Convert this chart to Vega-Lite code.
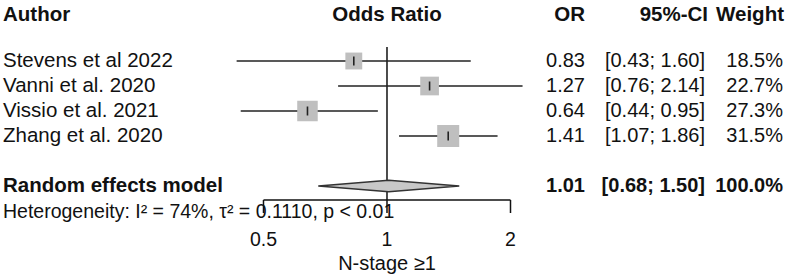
{
  "$schema": "https://vega.github.io/schema/vega-lite/v6.json",
  "width": 789,
  "height": 279,
  "autosize": "none",
  "padding": 0,
  "background": "white",
  "config": {
    "view": {"stroke": null},
    "axis": {"disable": true},
    "text": {"font": "Liberation Sans", "fontSize": 20, "color": "#111111", "baseline": "middle"}
  },
  "datasets": {
    "studies": [
      {"author": "Stevens et al 2022", "row": 2, "or": 0.83, "lo": 0.43, "hi": 1.60, "ci": "[0.43; 1.60]", "w": 0.185},
      {"author": "Vanni et al. 2020", "row": 3, "or": 1.27, "lo": 0.76, "hi": 2.14, "ci": "[0.76; 2.14]", "w": 0.227},
      {"author": "Vissio et al. 2021", "row": 4, "or": 0.64, "lo": 0.44, "hi": 0.95, "ci": "[0.44; 0.95]", "w": 0.273},
      {"author": "Zhang et al. 2020", "row": 5, "or": 1.41, "lo": 1.07, "hi": 1.86, "ci": "[1.07; 1.86]", "w": 0.315}
    ],
    "pooled": [
      {"author": "Random effects model", "row": 7, "or": 1.01, "lo": 0.68, "hi": 1.50, "ci": "[0.68; 1.50]", "w": 1.0}
    ],
    "diamond": [
      {"x": 0.68, "top": 7, "bottom": 7},
      {"x": 1.01, "top": 6.77, "bottom": 7.23},
      {"x": 1.50, "top": 7, "bottom": 7}
    ],
    "ticks": [
      {"v": 0.5, "lab": "0.5"},
      {"v": 1, "lab": "1"},
      {"v": 2, "lab": "2"}
    ]
  },
  "encoding": {
    "y": {"type": "quantitative", "scale": {"domain": [-0.44, 10.72], "reverse": true, "zero": false, "nice": false}}
  },
  "resolve": {"scale": {"x": "independent"}},
  "layer": [
    {
      "data": {"values": [{"ref": 1}]},
      "mark": {"type": "rule", "color": "#111111", "strokeWidth": 1.5},
      "encoding": {
        "x": {"field": "ref", "type": "quantitative", "scale": {"type": "log", "domain": [0.11395, 9.547], "nice": false}},
        "y": {"datum": 1.44},
        "y2": {"datum": 7.56}
      }
    },
    {
      "data": {"name": "studies"},
      "mark": {"type": "rule", "color": "#222222", "strokeWidth": 1.5},
      "encoding": {
        "x": {"field": "lo", "type": "quantitative", "scale": {"type": "log", "domain": [0.11395, 9.547], "nice": false}},
        "x2": {"field": "hi"},
        "y": {"field": "row"}
      }
    },
    {
      "data": {"name": "studies"},
      "mark": {"type": "point", "shape": "square", "filled": true, "fill": "#bfbfbf", "opacity": 1, "strokeWidth": 0},
      "encoding": {
        "x": {"field": "or", "type": "quantitative", "scale": {"type": "log", "domain": [0.11395, 9.547], "nice": false}},
        "y": {"field": "row"},
        "size": {"field": "w", "type": "quantitative", "scale": {"domain": [0, 1], "range": [0, 1540], "zero": true}, "legend": null}
      }
    },
    {
      "data": {"name": "studies"},
      "mark": {"type": "point", "shape": "M0,-1L0,1", "filled": false, "stroke": "#222222", "strokeWidth": 1.6, "size": 81, "opacity": 1},
      "encoding": {
        "x": {"field": "or", "type": "quantitative", "scale": {"type": "log", "domain": [0.11395, 9.547], "nice": false}},
        "y": {"field": "row"}
      }
    },
    {
      "data": {"name": "diamond"},
      "mark": {"type": "area", "fill": "#c8c8c8", "stroke": "#333333", "strokeWidth": 1.5, "opacity": 1, "interpolate": "linear", "orient": "vertical"},
      "encoding": {
        "x": {"field": "x", "type": "quantitative", "scale": {"type": "log", "domain": [0.11395, 9.547], "nice": false}},
        "y": {"field": "top"},
        "y2": {"field": "bottom"}
      }
    },
    {
      "data": {"name": "ticks"},
      "mark": {"type": "rule", "color": "#111111", "strokeWidth": 1.5},
      "encoding": {
        "x": {"aggregate": "min", "field": "v", "type": "quantitative", "scale": {"type": "log", "domain": [0.11395, 9.547], "nice": false}},
        "x2": {"aggregate": "max", "field": "v"},
        "y": {"datum": 7.56}
      }
    },
    {
      "data": {"name": "ticks"},
      "mark": {"type": "rule", "color": "#111111", "strokeWidth": 1.5},
      "encoding": {
        "x": {"field": "v", "type": "quantitative", "scale": {"type": "log", "domain": [0.11395, 9.547], "nice": false}},
        "y": {"datum": 7.56},
        "y2": {"datum": 8.08}
      }
    },
    {
      "data": {"name": "ticks"},
      "mark": {"type": "text", "align": "center", "fontSize": 19.5},
      "encoding": {
        "x": {"field": "v", "type": "quantitative", "scale": {"type": "log", "domain": [0.11395, 9.547], "nice": false}},
        "y": {"datum": 9.16},
        "text": {"field": "lab"}
      }
    },
    {
      "data": {"values": [{"label": "N-stage ≥1", "at": 1}]},
      "mark": {"type": "text", "align": "center", "fontSize": 20},
      "encoding": {
        "x": {"field": "at", "type": "quantitative", "scale": {"type": "log", "domain": [0.11395, 9.547], "nice": false}},
        "y": {"datum": 10.12},
        "text": {"field": "label"}
      }
    },
    {
      "data": {"values": [{"label": "Odds Ratio", "at": 1}]},
      "mark": {"type": "text", "align": "center", "fontWeight": "bold", "fontSize": 20.5},
      "encoding": {
        "x": {"field": "at", "type": "quantitative", "scale": {"type": "log", "domain": [0.11395, 9.547], "nice": false}},
        "y": {"datum": 0.14},
        "text": {"field": "label"}
      }
    },
    {
      "data": {"values": [{"label": "Author"}]},
      "mark": {"type": "text", "align": "left", "fontWeight": "bold", "fontSize": 20.5},
      "encoding": {
        "x": {"datum": 3, "type": "quantitative", "scale": {"domain": [0, 789], "nice": false, "zero": false}},
        "y": {"datum": 0.14},
        "text": {"field": "label"}
      }
    },
    {
      "data": {"values": [{"label": "OR"}]},
      "mark": {"type": "text", "align": "right", "fontWeight": "bold", "fontSize": 20.5},
      "encoding": {
        "x": {"datum": 585, "type": "quantitative", "scale": {"domain": [0, 789], "nice": false, "zero": false}},
        "y": {"datum": 0.14},
        "text": {"field": "label"}
      }
    },
    {
      "data": {"values": [{"label": "95%-CI"}]},
      "mark": {"type": "text", "align": "right", "fontWeight": "bold", "fontSize": 20.5},
      "encoding": {
        "x": {"datum": 708, "type": "quantitative", "scale": {"domain": [0, 789], "nice": false, "zero": false}},
        "y": {"datum": 0.14},
        "text": {"field": "label"}
      }
    },
    {
      "data": {"values": [{"label": "Weight"}]},
      "mark": {"type": "text", "align": "right", "fontWeight": "bold", "fontSize": 20.5},
      "encoding": {
        "x": {"datum": 784, "type": "quantitative", "scale": {"domain": [0, 789], "nice": false, "zero": false}},
        "y": {"datum": 0.14},
        "text": {"field": "label"}
      }
    },
    {
      "data": {"name": "studies"},
      "mark": {"type": "text", "align": "left", "fontSize": 20.5},
      "encoding": {
        "x": {"datum": 3, "type": "quantitative", "scale": {"domain": [0, 789], "nice": false, "zero": false}},
        "y": {"field": "row"},
        "text": {"field": "author"}
      }
    },
    {
      "data": {"name": "studies"},
      "mark": {"type": "text", "align": "right", "fontSize": 20},
      "encoding": {
        "x": {"datum": 585, "type": "quantitative", "scale": {"domain": [0, 789], "nice": false, "zero": false}},
        "y": {"field": "row"},
        "text": {"field": "or", "format": ".2f"}
      }
    },
    {
      "data": {"name": "studies"},
      "mark": {"type": "text", "align": "right", "fontSize": 20},
      "encoding": {
        "x": {"datum": 705, "type": "quantitative", "scale": {"domain": [0, 789], "nice": false, "zero": false}},
        "y": {"field": "row"},
        "text": {"field": "ci"}
      }
    },
    {
      "data": {"name": "studies"},
      "mark": {"type": "text", "align": "right", "fontSize": 20},
      "encoding": {
        "x": {"datum": 783, "type": "quantitative", "scale": {"domain": [0, 789], "nice": false, "zero": false}},
        "y": {"field": "row"},
        "text": {"field": "w", "format": ".1%"}
      }
    },
    {
      "data": {"name": "pooled"},
      "mark": {"type": "text", "align": "left", "fontWeight": "bold", "fontSize": 20.5},
      "encoding": {
        "x": {"datum": 3, "type": "quantitative", "scale": {"domain": [0, 789], "nice": false, "zero": false}},
        "y": {"field": "row"},
        "text": {"field": "author"}
      }
    },
    {
      "data": {"name": "pooled"},
      "mark": {"type": "text", "align": "right", "fontWeight": "bold", "fontSize": 20},
      "encoding": {
        "x": {"datum": 585, "type": "quantitative", "scale": {"domain": [0, 789], "nice": false, "zero": false}},
        "y": {"field": "row"},
        "text": {"field": "or", "format": ".2f"}
      }
    },
    {
      "data": {"name": "pooled"},
      "mark": {"type": "text", "align": "right", "fontWeight": "bold", "fontSize": 20},
      "encoding": {
        "x": {"datum": 705, "type": "quantitative", "scale": {"domain": [0, 789], "nice": false, "zero": false}},
        "y": {"field": "row"},
        "text": {"field": "ci"}
      }
    },
    {
      "data": {"name": "pooled"},
      "mark": {"type": "text", "align": "right", "fontWeight": "bold", "fontSize": 20},
      "encoding": {
        "x": {"datum": 783, "type": "quantitative", "scale": {"domain": [0, 789], "nice": false, "zero": false}},
        "y": {"field": "row"},
        "text": {"field": "w", "format": ".1%"}
      }
    },
    {
      "data": {"values": [{"label": "Heterogeneity: I² = 74%, τ² = 0.1110, p < 0.01"}]},
      "mark": {"type": "text", "align": "left", "fontSize": 19.5},
      "encoding": {
        "x": {"datum": 3, "type": "quantitative", "scale": {"domain": [0, 789], "nice": false, "zero": false}},
        "y": {"datum": 8.05},
        "text": {"field": "label"}
      }
    }
  ]
}
